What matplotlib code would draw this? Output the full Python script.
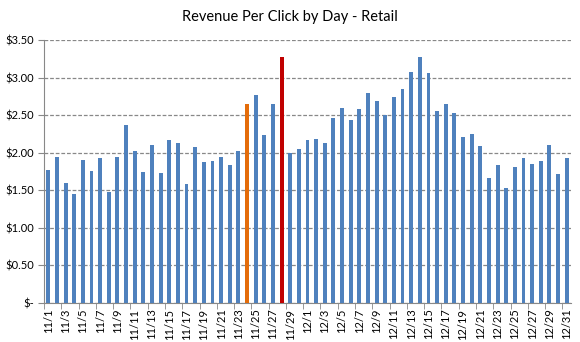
import matplotlib
matplotlib.use("Agg")
import matplotlib.pyplot as plt
from matplotlib.ticker import FixedLocator, FuncFormatter

days = [f"11/{d}" for d in range(1, 31)] + [f"12/{d}" for d in range(1, 32)]
rpc = [1.77, 1.94, 1.60, 1.45, 1.90, 1.76, 1.93, 1.48, 1.94, 2.37,
       2.02, 1.74, 2.10, 1.73, 2.17, 2.13, 1.58, 2.08, 1.88, 1.89,
       1.94, 1.84, 2.02, 2.65, 2.77, 2.24, 2.65, 3.28, 2.00, 2.05,
       2.17, 2.18, 2.13, 2.46, 2.60, 2.44, 2.58, 2.80, 2.69, 2.50,
       2.74, 2.85, 3.08, 3.27, 3.06, 2.56, 2.65, 2.53, 2.21, 2.25,
       2.09, 1.66, 1.84, 1.53, 1.81, 1.93, 1.85, 1.89, 2.10, 1.72,
       1.93]
highlight = {"11/24": "#E46C0A", "11/28": "#C00000"}
base_color = "#4F81BD"
y_ticks = [0, 0.5, 1.0, 1.5, 2.0, 2.5, 3.0, 3.5]

plt.rcParams['font.family'] = ['Lato', 'DejaVu Sans']

fig = plt.figure(figsize=(5.8, 3.42), dpi=100)
ax = fig.add_axes([44/580, 1 - 303/342, (571 - 44)/580, (303 - 40)/342])

x = list(range(len(days)))
colors = [highlight.get(d, base_color) for d in days]
ax.bar(x, rpc, width=0.45, color=colors, zorder=3)

ax.set_xlim(-0.5, len(days) - 0.5)
ax.set_ylim(0, 3.5)
ax.set_yticks(y_ticks)
ax.yaxis.set_major_formatter(FuncFormatter(lambda v, p: "$-" if v == 0 else f"${v:.2f}"))
ax.grid(axis='y', color='#888888', linestyle=(0, (3, 1.5)), linewidth=0.9, zorder=0)

ax.set_xticks(x[::2])
ax.set_xticklabels(days[::2], rotation=90)
ax.xaxis.set_minor_locator(FixedLocator([i - 0.5 for i in range(0, len(days) + 1, 2)]))
ax.tick_params(axis='x', which='major', length=0, pad=4, labelsize=8)
ax.tick_params(axis='x', which='minor', length=4, color='#888888')
ax.tick_params(axis='y', length=4, color='#888888', labelsize=8, pad=3)

for s in ['top', 'right']:
    ax.spines[s].set_visible(False)
for s in ['left', 'bottom']:
    ax.spines[s].set_color('#888888')

fig.text(0.5, 1 - 17/342, "Revenue Per Click by Day - Retail", ha='center', va='center', fontsize=10.5)

fig.savefig("out.png", dpi=100)
